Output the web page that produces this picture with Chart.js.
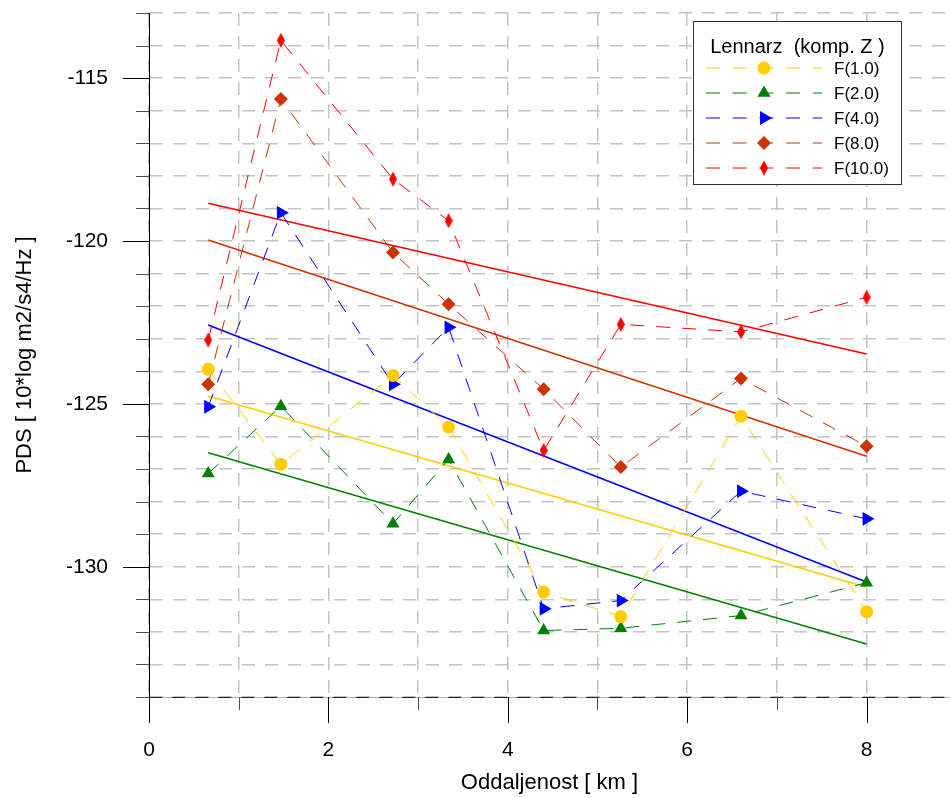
<!DOCTYPE html>
<html>
<head>
<meta charset="utf-8">
<script src="https://cdn.jsdelivr.net/npm/chart.js@4.4.1/dist/chart.umd.min.js"></script>
<style>
html, body { margin: 0; padding: 0; background: #fff; }
</style>
</head>
<body>
<canvas id="pds" width="950" height="798"></canvas>
<script>
'use strict';

// distances [km]
const distances = [0.66, 1.47, 2.72, 3.34, 4.40, 5.26, 6.60, 8.00];

// PDS [10*log m2/s4/Hz], one list per frequency
const pdsF1  = [-123.94, -126.86, -124.13, -125.71, -130.78, -131.53, -125.38, -131.38];
const pdsF2  = [-127.14, -125.07, -128.68, -126.71, -131.96, -131.89, -131.50, -130.49];
const pdsF4  = [-125.09, -119.13, -124.40, -122.65, -131.29, -131.04, -127.68, -128.53];
const pdsF8  = [-124.40, -115.64, -120.35, -121.94, -124.55, -126.94, -124.22, -126.30];
const pdsF10 = [-123.04, -113.84, -118.10, -119.38, -126.43, -122.56, -122.79, -121.73];

const trendX   = [0.66, 8.00];
const trendF1  = [-124.76, -130.63];
const trendF2  = [-126.50, -132.37];
const trendF4  = [-122.58, -130.47];
const trendF8  = [-119.97, -126.61];
const trendF10 = [-118.84, -123.47];

const seriesLabels = ['F(1.0)', 'F(2.0)', 'F(4.0)', 'F(8.0)', 'F(10.0)'];
const legendTitle = 'Lennarz  (komp. Z )';
const xTitle = 'Oddaljenost [ km ]';
const yTitle = 'PDS [ 10*log m2/s4/Hz ]';

const FONT = '"Liberation Sans", Arial, sans-serif';

function thinDiamond(color, w, h) {
	let c = document.createElement('canvas');
	c.width = w;
	c.height = h;
	let g = c.getContext('2d');
	g.fillStyle = color;
	g.beginPath();
	g.moveTo(w / 2, 0);
	g.lineTo(w, h / 2);
	g.lineTo(w / 2, h);
	g.lineTo(0, h / 2);
	g.closePath();
	g.fill();
	return c;
}

function pts(xs, ys) {
	return xs.map((x, i) => ({x: x, y: ys[i]}));
}

const styles = [
	{color: '#ffcc00', point: 'circle', radius: 6.5, rotation: 0},
	{color: '#008000', point: 'triangle', radius: 7.5, rotation: 0},
	{color: '#0000ff', point: 'triangle', radius: 8, rotation: 90},
	{color: '#cc3300', point: 'rectRot', radius: 7, rotation: 0},
	{color: '#ff0000', point: thinDiamond('#ff0000', 8, 15), radius: 7.5, rotation: 0},
];

const seriesValues = [pdsF1, pdsF2, pdsF4, pdsF8, pdsF10];
const trendValues = [trendF1, trendF2, trendF4, trendF8, trendF10];

let datasets = [];
seriesValues.forEach((vals, ix) => {
	let st = styles[ix];
	datasets.push({
		label: seriesLabels[ix],
		data: pts(distances, vals),
		showLine: true,
		borderColor: st.color,
		borderWidth: 1,
		borderDash: [14, 12],
		pointStyle: st.point,
		pointRadius: st.radius,
		pointRotation: st.rotation,
		pointBackgroundColor: st.color,
		pointBorderColor: st.color,
		pointBorderWidth: 0,
		inLegend: true,
	});
});
trendValues.forEach((vals, ix) => {
	datasets.push({
		label: seriesLabels[ix] + ' trend',
		data: pts(trendX, vals),
		showLine: true,
		borderColor: styles[ix].color,
		borderWidth: 1.5,
		pointRadius: 0,
		inLegend: false,
	});
});

// tick marks outside the plot, long at labelled values
const axisTicks = {
	id: 'axisTicks',
	afterDraw(chart) {
		let ctx = chart.ctx;
		let xs = chart.scales.x, ys = chart.scales.y;
		let area = chart.chartArea;
		ctx.save();
		ctx.lineWidth = 1;
		let by = Math.round(area.bottom) + 0.5;
		ctx.strokeStyle = '#b0b0b0';
		ctx.beginPath();
		ctx.moveTo(area.left, by);
		ctx.lineTo(area.right, by);
		ctx.stroke();
		ctx.strokeStyle = '#202020';
		ctx.setLineDash([13, 10]);
		ctx.beginPath();
		ctx.moveTo(area.left, by);
		ctx.lineTo(area.right, by);
		ctx.stroke();
		ctx.setLineDash([]);
		ys.ticks.forEach(t => {
			let py = Math.round(ys.getPixelForValue(t.value)) + 0.5;
			let major = t.value % 5 === 0;
			ctx.strokeStyle = major ? '#000' : '#505050';
			ctx.beginPath();
			ctx.moveTo(area.left - (major ? 26 : 13), py);
			ctx.lineTo(area.left, py);
			ctx.stroke();
		});
		xs.ticks.forEach(t => {
			let px = Math.round(xs.getPixelForValue(t.value)) + 0.5;
			let major = t.value % 2 === 0;
			ctx.strokeStyle = major ? '#000' : '#505050';
			ctx.beginPath();
			ctx.moveTo(px, area.bottom);
			ctx.lineTo(px, area.bottom + (major ? 26 : 13));
			ctx.stroke();
		});
		ctx.restore();
	}
};

// boxed legend: dashed sample line with the marker in its middle
const boxLegend = {
	id: 'boxLegend',
	afterDraw(chart) {
		let ctx = chart.ctx;
		let left = 693.5, top = 21.5, w = 208, h = 163;
		ctx.save();
		ctx.fillStyle = '#fff';
		ctx.fillRect(left, top, w, h);
		ctx.strokeStyle = '#303030';
		ctx.lineWidth = 1;
		ctx.strokeRect(left, top, w, h);
		ctx.fillStyle = '#000';
		ctx.font = '20px ' + FONT;
		ctx.textAlign = 'center';
		ctx.textBaseline = 'middle';
		ctx.fillText(legendTitle, left + w / 2, 47);
		let shown = chart.data.datasets.filter(d => d.inLegend);
		shown.forEach((ds, ix) => {
			let y = 68 + ix * 25;
			ctx.strokeStyle = ds.borderColor;
			ctx.lineWidth = 1;
			ctx.setLineDash([14, 12.7]);
			ctx.beginPath();
			ctx.moveTo(706, y);
			ctx.lineTo(822, y);
			ctx.stroke();
			ctx.setLineDash([]);
			ctx.fillStyle = ds.pointBackgroundColor;
			Chart.helpers.drawPoint(ctx, {
				pointStyle: ds.pointStyle,
				rotation: ds.pointRotation,
				radius: ds.pointRadius,
				borderWidth: 0,
			}, 764, y);
			ctx.fillStyle = '#000';
			ctx.font = '17px ' + FONT;
			ctx.textAlign = 'left';
			ctx.fillText(ds.label, 834, y + 1);
		});
		ctx.restore();
	}
};

const tickFont = {family: FONT, size: 21};
const titleFont = {family: FONT, size: 22};

new Chart(document.getElementById('pds'), {
	type: 'scatter',
	data: {datasets: datasets},
	plugins: [axisTicks, boxLegend],
	options: {
		responsive: false,
		animation: false,
		devicePixelRatio: 1,
		layout: {
			autoPadding: false,
			padding: {top: 13, left: 0, right: 0, bottom: 0},
		},
		plugins: {
			legend: {display: false},
			tooltip: {enabled: false},
		},
		scales: {
			x: {
				type: 'linear',
				min: 0,
				max: 8.93,
				afterFit: s => {
					s.height = 101;
					s.paddingLeft = 0;
					s.paddingRight = 0;
				},
				ticks: {
					stepSize: 1,
					includeBounds: false,
					autoSkip: false,
					maxRotation: 0,
					padding: 41,
					color: '#000',
					font: tickFont,
					callback: v => (v % 2 === 0 ? String(v) : ''),
				},
				grid: {color: '#c4c4c4', lineWidth: 1.5, drawTicks: false},
				border: {display: false, dash: [13, 10]},
				title: {
					display: true,
					text: xTitle,
					color: '#000',
					font: titleFont,
					padding: {top: 4, bottom: 2},
				},
			},
			y: {
				type: 'linear',
				min: -134,
				max: -113,
				afterFit: s => {
					s.width = 149;
					s.paddingTop = 0;
					s.paddingBottom = 0;
				},
				ticks: {
					stepSize: 1,
					autoSkip: false,
					padding: 41,
					color: '#000',
					font: tickFont,
					callback: v => (v % 5 === 0 ? String(v) : ''),
				},
				grid: {color: '#c4c4c4', lineWidth: 1.5, drawTicks: false},
				border: {display: true, color: '#000', width: 1, dash: [13, 10]},
				title: {
					display: true,
					text: yTitle,
					color: '#000',
					font: titleFont,
					padding: {top: 12, bottom: 0},
				},
			},
		},
	},
});
</script>
</body>
</html>
